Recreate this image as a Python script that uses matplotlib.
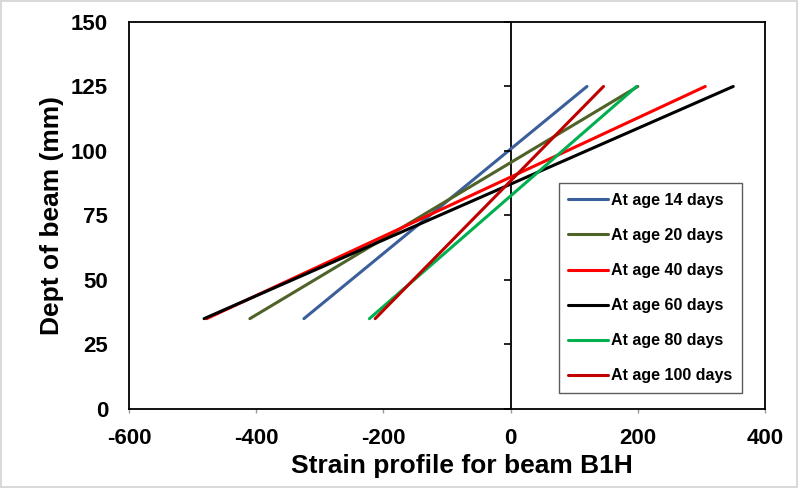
import numpy as np
from matplotlib import pyplot as plt

# depth (mm) at bottom and top of each strain profile
profundidad = [35, 125]

# strain values at those depths
edad_14 = [-325, 120]
edad_20 = [-410, 200]
edad_40 = [-478, 306]
edad_60 = [-482, 350]
edad_80 = [-222, 198]
edad_100 = [-213, 146]

series = [
    ("At age 14 days", edad_14, "#3b5f9a"),
    ("At age 20 days", edad_20, "#4f6228"),
    ("At age 40 days", edad_40, "#ff0000"),
    ("At age 60 days", edad_60, "#000000"),
    ("At age 80 days", edad_80, "#00b050"),
    ("At age 100 days", edad_100, "#c00000"),
]

xticks = [-600, -400, -200, 0, 200, 400]
yticks = [0, 25, 50, 75, 100, 125, 150]

plt.rcParams['font.family'] = ['Liberation Sans', 'DejaVu Sans']
plt.rcParams['font.weight'] = 'bold'
plt.rcParams['axes.unicode_minus'] = False

fig = plt.figure(figsize=(7.98, 4.88), dpi=100)
fig.patch.set_edgecolor("#d9d9d9")
fig.patch.set_linewidth(1.5)
ax = fig.add_axes([0.1617, 0.162, 0.797, 0.793])

for nombre, valores, color in series:
    ax.plot(valores, profundidad, color=color, lw=2.2, label=nombre, solid_capstyle="round")

# vertical axis line at zero with its tick marks
ax.axvline(0, color="black", lw=1.3, zorder=1)
ax.plot(np.zeros(len(yticks)), yticks, ls="none", marker=0, ms=5, mew=1.2, color="black", clip_on=False)

ax.set_xlim(-600, 400)
ax.set_ylim(0, 150)
ax.set_xticks(xticks)
ax.set_yticks(yticks)
ax.tick_params(axis="y", length=0, pad=15, labelsize=16)
ax.tick_params(axis="x", length=3, width=1, labelsize=16, pad=11, color="#999999")
for s in ax.spines.values():
    s.set_linewidth(1.3)

ax.set_xlabel("Strain profile for beam B1H", fontsize=19, fontweight="bold")
ax.xaxis.set_label_coords(0.524, -0.117)
ax.set_ylabel("Dept of beam (mm)", fontsize=19, fontweight="bold", labelpad=5)

leg = ax.legend(loc="lower right", bbox_to_anchor=(0.964, 0.041), fontsize=11.5,
                frameon=True, fancybox=False, edgecolor="#333333",
                handlelength=2.5, handletextpad=0.2, labelspacing=1.26,
                borderpad=0.6, borderaxespad=0)
leg.get_frame().set_linewidth(1.0)

plt.savefig("out.png", dpi=100)
